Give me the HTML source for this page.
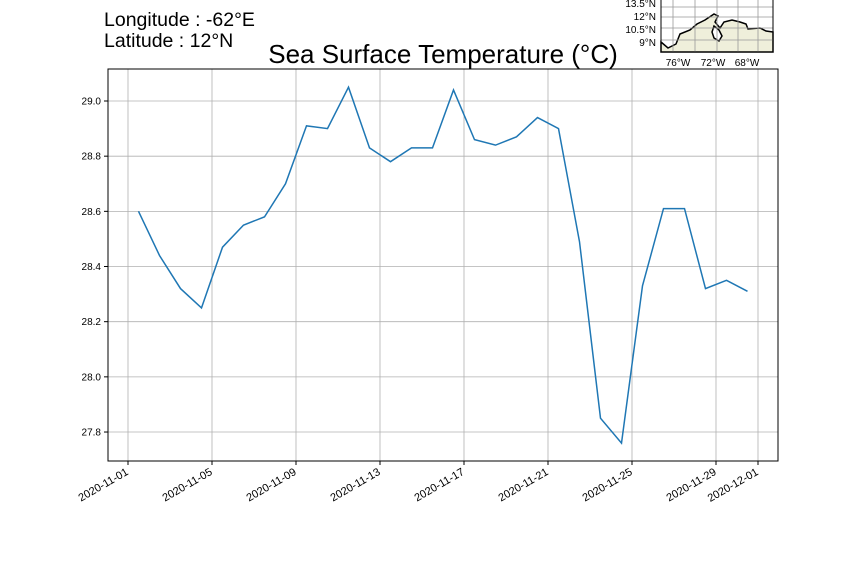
<!DOCTYPE html>
<html><head><meta charset="utf-8"><style>
body{margin:0;background:#fff;}
svg text{font-family:"Liberation Sans","DejaVu Sans",sans-serif;}
</style></head><body>
<svg width="864" height="576" xmlns="http://www.w3.org/2000/svg">
<rect width="864" height="576" fill="#fff"/>
<text x="104" y="26" font-size="19.5">Longitude : -62°E</text>
<text x="104" y="47" font-size="19.5">Latitude : 12°N</text>
<text x="443" y="63" font-size="26" text-anchor="middle">Sea Surface Temperature (°C)</text>
<g id="grid"></g>
<g id="axes"></g>
<path id="line" fill="none" stroke="#1f77b4" stroke-width="1.5"/>
<rect x="108" y="69" width="670" height="392" fill="none" stroke="#000" stroke-width="1"/>
<g>
<rect x="661" y="-2" width="112" height="54" fill="#fff"/>
<path d="M661,42 L668,48 L676,44 L680,34 L690,30 L697,24 L705,20 L714,14 L718,16 L715,22 L720,28 L724,22 L732,20 L740,22 L746,24 L748,29 L760,28 L766,31 L773,32 L773,52 L661,52 Z" fill="#efefdb" stroke="#000" stroke-width="1.5"/>
<path d="M714,26 L712,32 L714,38 L719,41 L722,36 L719,30 Z" fill="#fff" stroke="#000" stroke-width="1.5"/>
<g stroke="#999" stroke-width="0.8">
<line x1="673" y1="-2" x2="673" y2="52"/><line x1="695" y1="-2" x2="695" y2="52"/><line x1="717" y1="-2" x2="717" y2="52"/><line x1="738" y1="-2" x2="738" y2="52"/><line x1="758" y1="-2" x2="758" y2="52"/>
<line x1="661" y1="7" x2="773" y2="7"/><line x1="661" y1="17" x2="773" y2="17"/><line x1="661" y1="28" x2="773" y2="28"/><line x1="661" y1="40" x2="773" y2="40"/>
</g>
<rect x="661" y="-2" width="112" height="54" fill="none" stroke="#000" stroke-width="1"/>
<g font-size="10" text-anchor="end">
<text x="656" y="7">13.5°N</text><text x="656" y="20">12°N</text><text x="656" y="33">10.5°N</text><text x="656" y="46">9°N</text>
</g>
<g font-size="10" text-anchor="middle">
<text x="678" y="66">76°W</text><text x="713" y="66">72°W</text><text x="747" y="66">68°W</text>
</g>
</g>
<script>
const dates=["2020-11-01","2020-11-05","2020-11-09","2020-11-13","2020-11-17","2020-11-21","2020-11-25","2020-11-29","2020-12-01"];
const tickDays=[0,4,8,12,16,20,24,28,30];
const yTicks=[27.8,28.0,28.2,28.4,28.6,28.8,29.0];
const dayOffsets=[0.5,1.5,2.5,3.5,4.5,5.5,6.5,7.5,8.5,9.5,10.5,11.5,12.5,13.5,14.5,15.5,16.5,17.5,18.5,19.5,20.5,21.5,22.5,23.5,24.5,25.5,26.5,27.5,28.5,29.5];
const sst=[28.60,28.44,28.32,28.25,28.47,28.55,28.58,28.70,28.91,28.90,29.05,28.83,28.78,28.83,28.83,29.04,28.86,28.84,28.87,28.94,28.90,28.49,27.85,27.76,28.33,28.61,28.61,28.32,28.35,28.31];
const X=d=>128+d*21;
const Y=v=>101+(29.0-v)/0.2*55.17;
const ns="http://www.w3.org/2000/svg";
const grid=document.getElementById('grid'),axes=document.getElementById('axes');
function mk(t,a,p){const e=document.createElementNS(ns,t);for(const k in a)e.setAttribute(k,a[k]);p.appendChild(e);return e;}
tickDays.forEach((d,i)=>{
 const x=X(d);
 const g=mk('line',{x1:x,y1:69,x2:x,y2:461,stroke:'#b0b0b0','stroke-width':0.8},grid);
 
 
 mk('line',{x1:x,y1:461,x2:x,y2:465,stroke:'#000'},axes);
 const t=mk('text',{x:x+1,y:474,'font-size':11,'text-anchor':'end',transform:`rotate(-30 ${x+1} 474)`},axes);
 t.textContent=dates[i];
 
 
});
yTicks.forEach(v=>{
 const y=Y(v);
 const g=mk('line',{x1:108,y1:y,x2:778,y2:y,stroke:'#b0b0b0','stroke-width':0.8},grid);
 
 
 mk('line',{x1:104,y1:y,x2:108,y2:y,stroke:'#000'},axes);
 const t=mk('text',{x:101,y:y+3.5,'font-size':10,'text-anchor':'end'},axes);
 t.textContent=v.toFixed(1);
 
 
});
document.getElementById('line').setAttribute('d',sst.map((v,i)=>(i?'L':'M')+X(dayOffsets[i])+','+Y(v)).join(' '));
</script>
</svg>
</body></html>
